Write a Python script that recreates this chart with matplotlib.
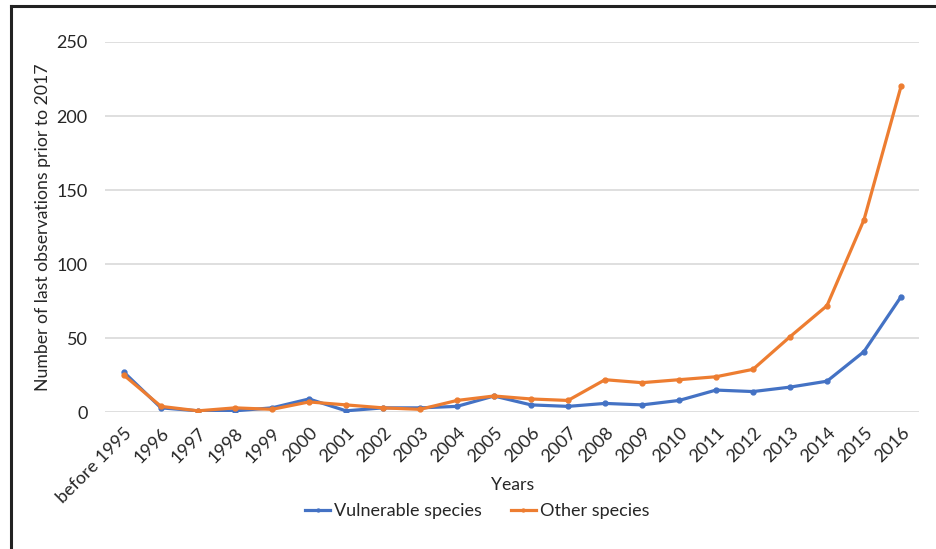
import matplotlib.pyplot as plt
from matplotlib.lines import Line2D

# data
years = ["before 1995", "1996", "1997", "1998", "1999", "2000", "2001", "2002",
         "2003", "2004", "2005", "2006", "2007", "2008", "2009", "2010", "2011",
         "2012", "2013", "2014", "2015", "2016"]
vulnerable = [27, 3, 1, 1, 3, 9, 1, 3, 3, 4, 11, 5, 4, 6, 5, 8, 15, 14, 17, 21, 41, 78]
other = [25, 4, 1, 3, 2, 7, 5, 3, 2, 8, 11, 9, 8, 22, 20, 22, 24, 29, 51, 72, 130, 220]
y_ticks = [0, 50, 100, 150, 200, 250]

BLUE = "#4472C4"
ORANGE = "#ED7D31"
TEXT = "#262626"

plt.rcParams["font.family"] = ["Lato", "DejaVu Sans"]

fig = plt.figure(figsize=(9.37, 5.49), dpi=100)
ax = fig.add_axes([105.5 / 937, 1 - 412.3 / 549, 814 / 937, 370.3 / 549])

x = list(range(len(years)))
ax.plot(x, vulnerable, color=BLUE, lw=2.3, marker="o", ms=3.5,
        label="Vulnerable species", zorder=3)
ax.plot(x, other, color=ORANGE, lw=2.3, marker="o", ms=3.5,
        label="Other species", zorder=4)

ax.set_xlim(-0.5, len(years) - 0.5)
ax.set_ylim(0, 250)
ax.set_yticks(y_ticks)
ax.set_xticks(x)
ax.set_xticklabels(years, rotation=45, ha="right", rotation_mode="anchor")
ax.tick_params(axis="both", length=0, labelsize=13, colors=TEXT)
ax.tick_params(axis="y", pad=13)
ax.tick_params(axis="x", pad=9)

ax.grid(axis="y", color="#d9d9d9", lw=1.2)
ax.set_axisbelow(True)
for s in ax.spines.values():
    s.set_visible(False)

ax.set_ylabel("Number of last observations prior to 2017", fontsize=12.7,
              color=TEXT, va="center")
ax.yaxis.set_label_coords(-0.0768, 0.5)
ax.set_xlabel("Years", fontsize=12.7, color=TEXT, va="center")
ax.xaxis.set_label_coords(0.5, -0.196)

fig.legend(loc="center", bbox_to_anchor=(477 / 937, 1 - 511 / 549),
           ncol=2, frameon=False, fontsize=13, handlelength=1.4,
           handletextpad=0.2, columnspacing=1.6, labelcolor=TEXT,
           markerscale=0.6)

# frame of the screenshot (left and top edges)
fig.add_artist(Line2D([11 / 937, 11 / 937], [0, 1 - 6 / 549],
                      transform=fig.transFigure, color="#222222", lw=2.2))
fig.add_artist(Line2D([11 / 937, 1], [1 - 6 / 549, 1 - 6 / 549],
                      transform=fig.transFigure, color="#222222", lw=2.2))

fig.savefig("out.png", dpi=100)
